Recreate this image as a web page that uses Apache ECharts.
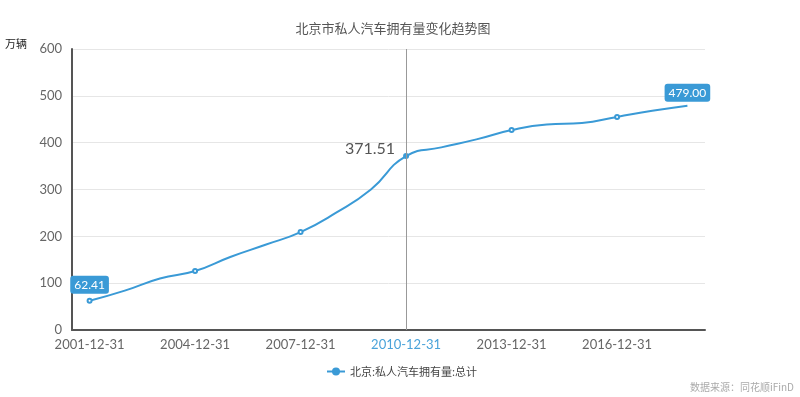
<!DOCTYPE html>
<html>
<head>
<meta charset="utf-8">
<script src="https://cdn.jsdelivr.net/npm/echarts@6/dist/echarts.min.js"></script>
<style>html,body{margin:0;padding:0;background:#fff;}#c{width:800px;height:397px;}</style>
</head>
<body>
<div id="c"></div>
<script>
var categories = ['2001-12-31','2002-12-31','2003-12-31','2004-12-31','2005-12-31','2006-12-31','2007-12-31','2008-12-31','2009-12-31','2010-12-31','2011-12-31','2012-12-31','2013-12-31','2014-12-31','2015-12-31','2016-12-31','2017-12-31','2018-12-31'];
var values = [62.41, 84, 110, 126, 156, 182, 209, 250, 300, 371.51, 390, 407, 427, 439, 442, 455, 468, 479.00];
var yTicks = [0, 100, 200, 300, 400, 500, 600];
var seriesName = '北京:私人汽车拥有量:总计';
var highlightCat = '2010-12-31';

var blue = '#3a9ad6';
var data = values.map(function (v, i) {
  var item = { value: v };
  // markers only on labelled categories (every third year)
  if (i % 3 !== 0) item.symbolSize = 0;
  else item.symbol = 'emptyCircle';
  if (i === 0 || i === values.length - 1) {
    item.label = {
      show: true, position: 'top', distance: 4,
      formatter: function (p) { return p.value.toFixed(2); },
      backgroundColor: blue, color: '#fff', borderRadius: 3,
      padding: [3, 4], fontSize: 12, fontFamily: 'Lato, sans-serif'
    };
  }
  if (categories[i] === highlightCat) {
    item.symbol = 'circle';
    item.symbolSize = 6;
    item.label = {
      show: true, position: 'left', distance: 8, offset: [0, -7],
      formatter: function (p) { return p.value.toFixed(2); },
      color: '#555', fontSize: 16, fontFamily: 'Lato, sans-serif'
    };
  }
  return item;
});

var chart = echarts.init(document.getElementById('c'));
chart.setOption({
  animation: false,
  title: {
    text: '北京市私人汽车拥有量变化趋势图',
    left: 388, top: 17, textAlign: 'center',
    textStyle: { fontSize: 13, fontWeight: 'normal', color: '#555', fontFamily: 'Noto Sans CJK SC' }
  },
  graphic: [
    {
      type: 'text', left: 5, top: 38,
      style: { text: '万辆', fill: '#222', fontSize: 11, fontFamily: 'Noto Sans CJK SC' }
    },
    {
      type: 'text', right: 6, top: 382,
      style: { text: '数据来源：同花顺iFinD', fill: '#aaa', fontSize: 10, fontFamily: 'Noto Sans CJK SC' }
    }
  ],
  legend: {
    data: [seriesName], left: 321, top: 361, itemWidth: 18, itemHeight: 10, itemGap: 4,
    textStyle: { fontSize: 11, color: '#444', fontFamily: 'Noto Sans CJK SC' }
  },
  grid: { left: 72, right: 95, top: 49, bottom: 67 },
  xAxis: {
    type: 'category', data: categories, boundaryGap: true,
    axisLine: { lineStyle: { color: '#555', width: 2 } },
    axisTick: { show: false },
    axisLabel: {
      interval: 2, fontSize: 13, margin: 8, fontFamily: 'Lato, sans-serif',
      color: function (v) { return v === highlightCat ? '#4aa3da' : '#666'; }
    },
    splitLine: { show: false }
  },
  yAxis: {
    type: 'value', min: yTicks[0], max: yTicks[yTicks.length - 1], interval: 100,
    axisLine: { show: true, lineStyle: { color: '#555', width: 2 } },
    axisTick: { show: false },
    axisLabel: { fontSize: 13, color: '#666', margin: 10, fontFamily: 'Lato, sans-serif' },
    splitLine: { lineStyle: { color: '#e6e6e6' } }
  },
  series: [{
    name: seriesName, type: 'line', data: data, smooth: true,
    symbol: 'circle', symbolSize: 4, showAllSymbol: true,
    lineStyle: { color: blue, width: 2 },
    itemStyle: { color: blue },
    markLine: {
      silent: true, symbol: 'none', label: { show: false },
      lineStyle: { color: '#999', type: 'solid', width: 1 },
      data: [{ xAxis: highlightCat }]
    }
  }]
});
</script>
</body>
</html>
